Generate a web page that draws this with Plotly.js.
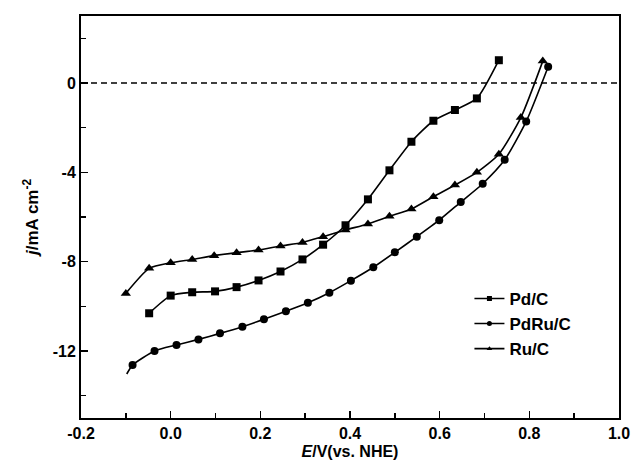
<!DOCTYPE html>
<html>
<head>
<meta charset="utf-8">
<script src="https://cdn.plot.ly/plotly-3.0.1.min.js"></script>
<style>html,body{margin:0;padding:0;background:#fff;}#chart{width:633px;height:465px;}</style>
</head>
<body>
<div id="chart"></div>
<script>
// Pd/C (squares)
var pdX = [-0.048, 0.0, 0.048, 0.099, 0.147, 0.196, 0.245, 0.294, 0.340, 0.390, 0.440, 0.488, 0.537, 0.586, 0.634, 0.683, 0.732];
var pdY = [-10.31, -9.52, -9.37, -9.33, -9.14, -8.84, -8.44, -7.90, -7.24, -6.37, -5.21, -3.91, -2.63, -1.69, -1.21, -0.69, 1.02];
// PdRu/C (circles); first point is the start of the line, without marker
var pdruX = [-0.098, -0.085, -0.036, 0.013, 0.062, 0.110, 0.160, 0.208, 0.257, 0.306, 0.354, 0.402, 0.452, 0.500, 0.549, 0.599, 0.647, 0.696, 0.745, 0.793, 0.842];
var pdruY = [-13.03, -12.63, -12.00, -11.73, -11.48, -11.21, -10.91, -10.58, -10.22, -9.84, -9.39, -8.85, -8.25, -7.58, -6.88, -6.14, -5.33, -4.51, -3.44, -1.72, 0.73];
var pdruMarkerSize = [0, 8, 8, 8, 8, 8, 8, 8, 8, 8, 8, 8, 8, 8, 8, 8, 8, 8, 8, 8, 8];
// Ru/C (triangles)
var ruX = [-0.100, -0.048, 0.0, 0.048, 0.097, 0.147, 0.196, 0.245, 0.294, 0.340, 0.390, 0.440, 0.488, 0.537, 0.586, 0.634, 0.683, 0.732, 0.781, 0.830];
var ruY = [-9.42, -8.30, -8.05, -7.90, -7.73, -7.60, -7.48, -7.30, -7.14, -6.88, -6.58, -6.31, -5.97, -5.64, -5.09, -4.57, -4.00, -3.19, -1.55, 0.98];

// tick labels
var xTickVals = [-0.2, 0.0, 0.2, 0.4, 0.6, 0.8, 1.0];
var xTickText = ['-0.2', '0.0', '0.2', '0.4', '0.6', '0.8', '1.0'];
var yTickVals = [-12, -8, -4, 0];
var yTickText = ['-12', '-8', '-4', '0'];

var names = ['Pd/C', 'PdRu/C', 'Ru/C'];
var symbols = ['square', 'circle', 'triangle-up'];

var lineStyle = {color: '#000', width: 1.6, shape: 'spline', smoothing: 0.6};
var traces = [
  {x: pdX, y: pdY, mode: 'lines+markers', line: lineStyle, marker: {symbol: symbols[0], size: 8, color: '#000', opacity: 1, line: {width: 0}}, showlegend: false},
  {x: pdruX, y: pdruY, mode: 'lines+markers', line: lineStyle, marker: {symbol: symbols[1], size: pdruMarkerSize, color: '#000', opacity: 1, line: {width: 0}}, showlegend: false},
  {x: ruX, y: ruY, mode: 'lines+markers', line: lineStyle, marker: {symbol: symbols[2], size: 9, color: '#000', opacity: 1, line: {width: 0}}, showlegend: false}
];
for (var i = 0; i < 3; i++) {
  traces.push({x: [null], y: [null], name: names[i], mode: 'lines+markers',
    line: {color: '#000', width: 1.6}, marker: {symbol: symbols[i], size: 5, color: '#000', line: {width: 0}}});
}

var fontBold = {family: 'Liberation Sans, Arial, sans-serif', size: 16, color: '#000', weight: 'bold'};
var layout = {
  width: 633, height: 465,
  margin: {l: 81, r: 14, t: 16, b: 47},
  paper_bgcolor: '#fff', plot_bgcolor: '#fff',
  font: fontBold,
  xaxis: {
    range: [-0.2, 1.0], tickmode: 'array', tickvals: xTickVals, ticktext: xTickText,
    ticks: 'inside', ticklen: 7, tickwidth: 1.5, tickcolor: '#000',
    minor: {dtick: 0.1, tick0: -0.2, ticks: 'inside', ticklen: 5, tickwidth: 1.5, tickcolor: '#000'},
    showline: true, linecolor: '#000', linewidth: 2, mirror: true,
    showgrid: false, zeroline: false,
    tickfont: fontBold,
    title: {text: '<i>E</i>/V(vs. NHE)', font: fontBold, standoff: 5}
  },
  yaxis: {
    range: [-15, 3], tickmode: 'array', tickvals: yTickVals, ticktext: yTickText,
    ticks: 'inside', ticklen: 7, tickwidth: 1.5, tickcolor: '#000',
    minor: {dtick: 2, tick0: 0, ticks: 'inside', ticklen: 5, tickwidth: 1.5, tickcolor: '#000'},
    showline: true, linecolor: '#000', linewidth: 2, mirror: true,
    showgrid: false, zeroline: false,
    tickfont: fontBold,
    title: {text: '<i>j</i>/mA cm<sup>-2</sup>', font: {family: 'Liberation Sans, Arial, sans-serif', size: 17, color: '#000', weight: 'bold'}, standoff: 10}
  },
  shapes: [{type: 'line', xref: 'paper', x0: 0, x1: 1, yref: 'y', y0: 0, y1: 0,
    line: {color: '#000', width: 1.3, dash: '6px,4px'}}],
  legend: {x: 0.722, y: 0.341, xanchor: 'left', yanchor: 'top', bgcolor: 'rgba(0,0,0,0)',
    font: {family: 'Liberation Sans, Arial, sans-serif', size: 17, color: '#000', weight: 'bold'},
    tracegroupgap: 0}
};
Plotly.newPlot('chart', traces, layout, {displayModeBar: false, staticPlot: true});
</script>
</body>
</html>
